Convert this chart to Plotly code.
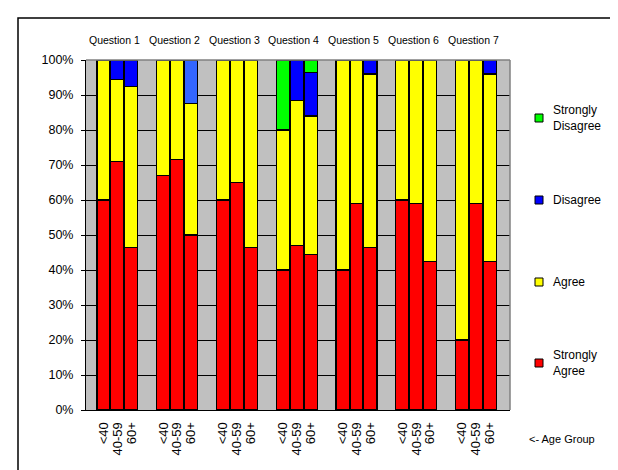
import plotly.graph_objects as go

# ---- data ----
questions = ["Question 1", "Question 2", "Question 3", "Question 4",
             "Question 5", "Question 6", "Question 7"]
age_groups = ["<40", "40-59", "60+"]

# values in %, ordered Q1(<40,40-59,60+), Q2(...), ... Q7(...)
strongly_agree = [60, 71, 46.5, 67, 71.5, 50, 60, 65, 46.5, 40, 47, 44.5,
                  40, 59, 46.5, 60, 59, 42.5, 20, 59, 42.5]
agree = [40, 23.5, 46, 33, 28.5, 37.5, 40, 35, 53.5, 40, 41.5, 39.5,
         60, 41, 49.5, 40, 41, 57.5, 80, 41, 53.5]
disagree = [0, 5.5, 7.5, 0, 0, 12.5, 0, 0, 0, 0, 11.5, 12.5,
            0, 0, 4, 0, 0, 0, 0, 0, 4]
strongly_disagree = [0, 0, 0, 0, 0, 0, 0, 0, 0, 20, 0, 3.5,
                     0, 0, 0, 0, 0, 0, 0, 0, 0]

series_names = ["Strongly Agree", "Agree", "Disagree", "Strongly Disagree"]
legend_labels = ["Strongly<br>Agree", "Agree", "Disagree", "Strongly<br>Disagree"]
series_values = [strongly_agree, agree, disagree, strongly_disagree]
series_colors = ["#FF0000", "#FFFF00", "#0000FF", "#00FF00"]
disagree_alt_color = "#3366FF"   # Question 2, 60+ shown in a lighter blue

# ---- layout helpers ----
GROUP_STEP = 4.3
xs = [g * GROUP_STEP + a for g in range(len(questions)) for a in range(len(age_groups))]
tick_text = [age for _ in questions for age in age_groups]

W, H = 618, 470
L, R, T, B = 78, 502, 52, 402  # plot area in pixels
def px(x):
    return (x - L) / (R - L)
def py(y):
    return (B - y) / (B - T)

FONT = "Liberation Sans, Arial, sans-serif"

fig = go.Figure()
for name, vals, col in zip(series_names, series_values, series_colors):
    if name == "Disagree":
        colors = [col] * len(vals)
        colors[5] = disagree_alt_color
    else:
        colors = col
    fig.add_trace(go.Bar(
        x=xs, y=vals, name=name, width=0.94,
        marker=dict(color=colors, line=dict(color="black", width=1.2)),
        showlegend=False,
    ))

annotations = []
for g, q in enumerate(questions):
    annotations.append(dict(
        x=g * GROUP_STEP + 0.8, y=1, xref="x", yref="paper",
        text=q, showarrow=False, yanchor="middle", yshift=20,
        font=dict(family=FONT, size=10.5, color="black"),
    ))

# manual legend (top to bottom: Strongly Disagree, Disagree, Agree, Strongly Agree)
shapes = []
legend_y = [355, 274, 192, 110]
for lab, col, ly in zip(legend_labels, series_colors, legend_y):
    shapes.append(dict(type="rect", xref="paper", yref="paper",
                       x0=px(527), x1=px(535), y0=py(ly + 4), y1=py(ly - 4),
                       fillcolor=col, line=dict(color="black", width=1)))
    annotations.append(dict(x=px(543), y=py(ly), xref="paper", yref="paper",
                            text=lab, showarrow=False, xanchor="left", yanchor="middle",
                            align="left",
                            font=dict(family=FONT, size=12, color="black")))

annotations.append(dict(x=px(519), y=py(431), xref="paper", yref="paper",
                        text="<- Age Group", showarrow=False, xanchor="left",
                        yanchor="middle",
                        font=dict(family=FONT, size=11, color="black")))

# outer frame (top and left edges visible)
shapes.append(dict(type="rect", xref="paper", yref="paper",
                   x0=px(10), x1=px(700), y0=py(560), y1=py(10),
                   line=dict(color="black", width=1.5), fillcolor="rgba(0,0,0,0)"))
# plot-area border (top and right, grey)
shapes.append(dict(type="line", xref="paper", yref="paper", x0=0, x1=1, y0=1, y1=1,
                   line=dict(color="#808080", width=1.5), layer="above"))
shapes.append(dict(type="line", xref="paper", yref="paper", x0=1, x1=1, y0=0, y1=1,
                   line=dict(color="#808080", width=1.5), layer="above"))

fig.update_layout(
    width=W, height=H,
    margin=dict(l=L, r=W - R, t=T, b=H - B, pad=0),
    paper_bgcolor="white", plot_bgcolor="#C0C0C0",
    barmode="stack",
    showlegend=False,
    annotations=annotations,
    shapes=shapes,
    xaxis=dict(
        range=[-1.26, 29.24], tickmode="array", tickvals=xs, ticktext=tick_text,
        tickangle=-90, ticks="", showgrid=False, zeroline=False,
        showline=True, linecolor="black", linewidth=1,
        tickfont=dict(family=FONT, size=13, color="black"),
        ticklabelstandoff=6, fixedrange=True,
    ),
    yaxis=dict(
        range=[0, 100], dtick=10, ticksuffix="%", showgrid=True,
        gridcolor="black", gridwidth=1, zeroline=False,
        showline=True, linecolor="black", linewidth=1,
        ticks="outside", ticklen=4, tickcolor="black",
        tickfont=dict(family=FONT, size=12.5, color="black"),
        ticklabelstandoff=5, fixedrange=True,
    ),
)

fig.write_html("out.html")
